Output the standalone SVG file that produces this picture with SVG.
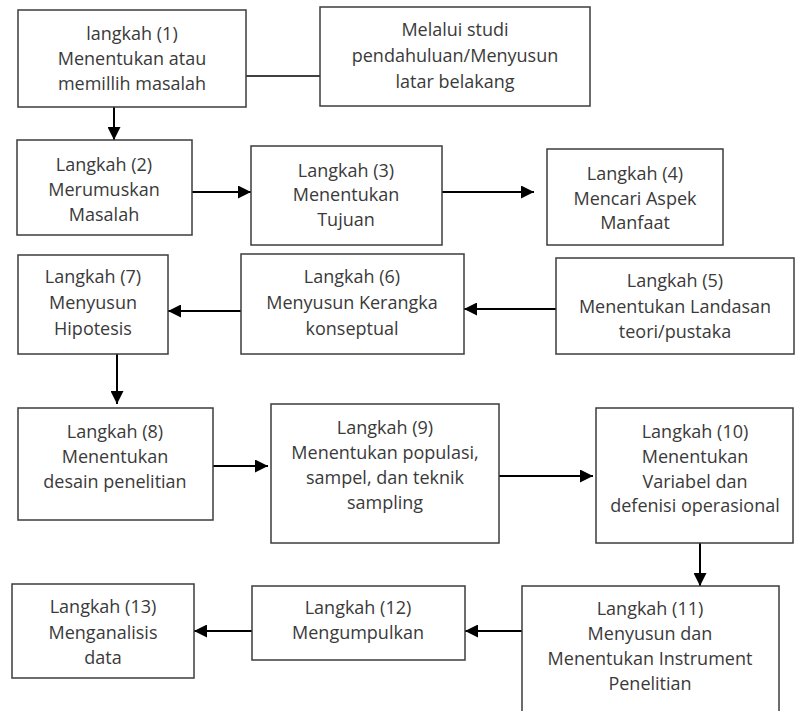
<svg xmlns="http://www.w3.org/2000/svg" width="795" height="711" viewBox="0 0 795 711">
<style>
.box{fill:#fff;stroke:#3c3c3c;stroke-width:1.5}
.t{font-family:"Open Sans","Noto Sans","Liberation Sans",sans-serif;font-size:18px;fill:#3a3a3a;text-anchor:middle}
.c{stroke:#000;stroke-width:2;fill:none}
</style>
<defs>
<marker id="ah" markerUnits="userSpaceOnUse" markerWidth="13" markerHeight="13" viewBox="0 0 13 13" refX="13" refY="6.5" orient="auto">
<path d="M0,0 L13,6.5 L0,13 Z" fill="#000"/>
</marker>
</defs>
<rect width="795" height="711" fill="#fff"/>
<g id="connectors">
<line class="c" x1="246" y1="76" x2="320" y2="76" style="stroke-width:1.5"/>
<line class="c" x1="114" y1="107" x2="114" y2="140" marker-end="url(#ah)"/>
<line class="c" x1="192" y1="192" x2="251" y2="192" marker-end="url(#ah)"/>
<line class="c" x1="442" y1="192" x2="534" y2="192" marker-end="url(#ah)"/>
<line class="c" x1="556" y1="309" x2="464" y2="309" marker-end="url(#ah)"/>
<line class="c" x1="241" y1="311" x2="168" y2="311" marker-end="url(#ah)"/>
<line class="c" x1="117" y1="354" x2="117" y2="404" marker-end="url(#ah)"/>
<line class="c" x1="213" y1="466" x2="268" y2="466" marker-end="url(#ah)"/>
<line class="c" x1="499" y1="476" x2="593" y2="476" marker-end="url(#ah)"/>
<line class="c" x1="700" y1="543" x2="700" y2="586" marker-end="url(#ah)"/>
<line class="c" x1="522" y1="631" x2="465" y2="631" marker-end="url(#ah)"/>
<line class="c" x1="252" y1="631" x2="194" y2="631" marker-end="url(#ah)"/>
</g>
<g id="n1"><rect class="box" x="18" y="10" width="228" height="97"/>
<text class="t" x="132" y="40">langkah (1)</text><text class="t" x="132" y="65">Menentukan atau</text><text class="t" x="132" y="90">memillih masalah</text></g>
<g id="n1b"><rect class="box" x="320" y="7" width="270" height="99"/>
<text class="t" x="455" y="36">Melalui studi</text><text class="t" x="455" y="62">pendahuluan/Menyusun</text><text class="t" x="455" y="88">latar belakang</text></g>
<g id="n2"><rect class="box" x="17" y="140" width="175" height="95"/>
<text class="t" x="104" y="171">Langkah (2)</text><text class="t" x="104" y="196">Merumuskan</text><text class="t" x="104" y="221">Masalah</text></g>
<g id="n3"><rect class="box" x="251" y="146" width="191" height="99"/>
<text class="t" x="346" y="177">Langkah (3)</text><text class="t" x="346" y="201">Menentukan</text><text class="t" x="346" y="226">Tujuan</text></g>
<g id="n4"><rect class="box" x="547" y="149" width="176" height="96"/>
<text class="t" x="635" y="180">Langkah (4)</text><text class="t" x="635" y="205">Mencari Aspek</text><text class="t" x="635" y="229">Manfaat</text></g>
<g id="n5"><rect class="box" x="556" y="258" width="238" height="96"/>
<text class="t" x="675" y="287">Langkah (5)</text><text class="t" x="675" y="313">Menentukan Landasan</text><text class="t" x="675" y="338">teori/pustaka</text></g>
<g id="n6"><rect class="box" x="241" y="254" width="223" height="100"/>
<text class="t" x="352" y="283">Langkah (6)</text><text class="t" x="352" y="309">Menyusun Kerangka</text><text class="t" x="352" y="335">konseptual</text></g>
<g id="n7"><rect class="box" x="18" y="255" width="150" height="99"/>
<text class="t" x="93" y="283">Langkah (7)</text><text class="t" x="93" y="309">Menyusun</text><text class="t" x="93" y="335">Hipotesis</text></g>
<g id="n8"><rect class="box" x="18" y="408" width="195" height="112"/>
<text class="t" x="115" y="438">Langkah (8)</text><text class="t" x="115" y="463">Menentukan</text><text class="t" x="115" y="488">desain penelitian</text></g>
<g id="n9"><rect class="box" x="271" y="404" width="228" height="139"/>
<text class="t" x="385" y="434">Langkah (9)</text><text class="t" x="385" y="459">Menentukan populasi,</text><text class="t" x="385" y="484">sampel, dan teknik</text><text class="t" x="385" y="509">sampling</text></g>
<g id="n10"><rect class="box" x="596" y="408" width="197" height="135"/>
<text class="t" x="695" y="438">Langkah (10)</text><text class="t" x="695" y="463">Menentukan</text><text class="t" x="695" y="488">Variabel dan</text><text class="t" x="695" y="512">defenisi operasional</text></g>
<g id="n11"><rect class="box" x="522" y="586" width="257" height="135"/>
<text class="t" x="650" y="615">Langkah (11)</text><text class="t" x="650" y="640">Menyusun dan</text><text class="t" x="650" y="665">Menentukan Instrument</text><text class="t" x="650" y="690">Penelitian</text></g>
<g id="n12"><rect class="box" x="252" y="586" width="213" height="74"/>
<text class="t" x="358" y="614">Langkah (12)</text><text class="t" x="358" y="639">Mengumpulkan</text></g>
<g id="n13"><rect class="box" x="12" y="584" width="182" height="94"/>
<text class="t" x="103" y="613">Langkah (13)</text><text class="t" x="103" y="639">Menganalisis</text><text class="t" x="103" y="664">data</text></g>
</svg>
